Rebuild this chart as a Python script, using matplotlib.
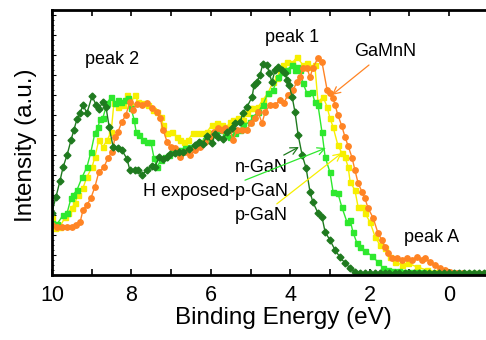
import matplotlib
matplotlib.use("Agg")
import matplotlib.pyplot as plt
import numpy as np

plt.rcParams['font.family'] = ['Liberation Sans', 'DejaVu Sans']

# n-GaN (dark green diamonds)
e_n = [10.01, 9.90, 9.80, 9.72, 9.62, 9.52, 9.45, 9.37, 9.29, 9.22, 9.12, 8.99, 8.89, 8.82, 8.72, 8.64,
       8.56, 8.46, 8.34, 8.24, 8.11, 8.04, 7.91, 7.83, 7.73, 7.61, 7.48, 7.41, 7.30, 7.20, 7.10, 7.03,
       6.90, 6.80, 6.70, 6.55, 6.40, 6.30, 6.20, 6.10, 5.97, 5.89, 5.82, 5.69, 5.59, 5.47, 5.39, 5.26,
       5.19, 5.09, 4.96, 4.91, 4.84, 4.76, 4.69, 4.58, 4.53, 4.46, 4.38, 4.31, 4.21, 4.13, 4.08, 4.03,
       3.95, 3.88, 3.80, 3.70, 3.60, 3.50, 3.43, 3.30, 3.20, 3.12, 3.00, 2.87, 2.75, 2.62, 2.49, 2.37,
       2.24, 2.12, 2.00, 1.87, 1.75, 1.62, 1.50, 1.37, 1.25, 1.12, 1.00, 0.87, 0.75, 0.62, 0.50, 0.37,
       0.25, 0.12, 0.00, -0.12, -0.25, -0.37, -0.50, -0.62, -0.75, -0.87]
i_n = [62, 78, 94, 108, 120, 135, 145, 156, 162, 170, 162, 179, 170, 166, 173, 168,
       148, 128, 127, 125, 116, 105, 105, 105, 100, 105, 109, 108, 118, 116, 118, 121,
       122, 123, 123, 126, 130, 133, 131, 139, 132, 141, 138, 136, 143, 147, 152, 153,
       162, 168, 178, 190, 193, 200, 211, 210, 202, 193, 205, 208, 205, 202, 195, 190,
       178, 163, 140, 120, 107, 83, 73, 62, 58, 43, 35, 25, 18, 12, 7, 3,
       2, 2, 2, 2, 2, 2, 2, 2, 2, 2, 2, 2, 2, 2, 2, 2,
       2, 2, 2, 2, 2, 2, 2, 2, 2, 2]

# H exposed-p-GaN (light green squares)
e_h = [10.00, 9.87, 9.72, 9.62, 9.52, 9.47, 9.37, 9.24, 9.12, 9.02, 8.92, 8.84, 8.79, 8.72, 8.61, 8.51,
       8.41, 8.34, 8.26, 8.16, 8.09, 8.01, 7.93, 7.88, 7.81, 7.71, 7.61, 7.51, 7.43, 7.36, 7.25, 7.15,
       7.05, 6.95, 6.85, 6.75, 6.65, 6.52, 6.40, 6.27, 6.15, 6.02, 5.94, 5.77, 5.64, 5.52, 5.39, 5.26,
       5.19, 5.01, 4.94, 4.81, 4.69, 4.56, 4.43, 4.31, 4.21, 4.08, 3.95, 3.88, 3.83, 3.75, 3.68, 3.58,
       3.45, 3.38, 3.30, 3.20, 3.12, 3.00, 2.92, 2.80, 2.70, 2.57, 2.49, 2.42, 2.32, 2.24, 2.12, 1.94,
       1.79, 1.66, 1.54, 1.40, 1.25, 1.10, 0.95, 0.80, 0.65, 0.50, 0.35, 0.20, 0.05, -0.10, -0.25, -0.40,
       -0.55, -0.70, -0.87]
i_h = [52, 51, 60, 62, 77, 80, 85, 98, 108, 123, 142, 148, 156, 157, 172, 178,
       172, 175, 173, 175, 177, 167, 155, 143, 140, 135, 133, 133, 117, 108, 115, 118,
       120, 123, 125, 125, 127, 128, 129, 133, 135, 137, 142, 145, 140, 138, 142, 145,
       150, 153, 158, 163, 170, 182, 185, 198, 203, 205, 210, 205, 208, 205, 192, 182,
       183, 173, 170, 143, 118, 103, 83, 82, 68, 53, 55, 43, 32, 28, 24, 19,
       13, 7, 5, 4, 4, 3, 3, 3, 3, 2, 2, 2, 2, 2, 2, 2,
       2, 2, 2]

# p-GaN (yellow squares)
e_p = [10.00, 9.92, 9.80, 9.67, 9.60, 9.50, 9.42, 9.35, 9.22, 9.12, 8.99, 8.92, 8.82, 8.72, 8.61, 8.51,
       8.44, 8.34, 8.21, 8.11, 8.04, 7.91, 7.83, 7.71, 7.58, 7.46, 7.36, 7.25, 7.20, 7.10, 6.98, 6.85,
       6.78, 6.68, 6.57, 6.45, 6.32, 6.20, 6.10, 5.97, 5.84, 5.72, 5.59, 5.52, 5.44, 5.31, 5.19, 5.09,
       5.01, 4.94, 4.81, 4.69, 4.56, 4.43, 4.33, 4.26, 4.18, 4.08, 3.95, 3.83, 3.68, 3.58, 3.50, 3.38,
       3.30, 3.17, 3.07, 3.00, 2.92, 2.80, 2.70, 2.62, 2.54, 2.49, 2.37, 2.29, 2.19, 2.12, 1.99, 1.86,
       1.74, 1.61, 1.49, 1.36, 1.18, 1.03, 0.81, 0.55, 0.30, 0.10, -0.10, -0.30, -0.50, -0.70, -0.87]
i_p = [57, 47, 48, 58, 62, 67, 72, 80, 87, 98, 108, 118, 135, 128, 135, 143,
       172, 168, 170, 180, 170, 180, 173, 172, 170, 165, 163, 158, 150, 142, 143, 138,
       135, 133, 135, 142, 142, 142, 143, 150, 152, 150, 148, 153, 155, 157, 155, 162,
       167, 167, 168, 175, 182, 193, 197, 205, 210, 213, 212, 218, 210, 212, 208, 210,
       173, 178, 168, 157, 148, 130, 122, 118, 108, 93, 85, 68, 68, 62, 53, 38,
       30, 27, 18, 13, 10, 12, 8, 5, 3, 2, 2, 2, 2, 2, 2]

# GaMnN (orange circles)
e_m = [10.00, 9.87, 9.75, 9.62, 9.50, 9.40, 9.29, 9.22, 9.12, 9.02, 8.92, 8.82, 8.69, 8.59, 8.49, 8.41,
       8.34, 8.24, 8.14, 8.04, 7.96, 7.86, 7.73, 7.61, 7.48, 7.36, 7.28, 7.20, 7.10, 7.00, 6.90, 6.78,
       6.65, 6.52, 6.40, 6.27, 6.15, 6.02, 5.92, 5.82, 5.72, 5.64, 5.52, 5.44, 5.34, 5.21, 5.09, 4.99,
       4.89, 4.81, 4.71, 4.63, 4.51, 4.38, 4.26, 4.16, 4.06, 3.93, 3.83, 3.75, 3.68, 3.58, 3.50, 3.43,
       3.30, 3.20, 3.07, 3.00, 2.92, 2.87, 2.80, 2.70, 2.62, 2.54, 2.44, 2.37, 2.29, 2.19, 2.12, 2.04,
       1.91, 1.79, 1.69, 1.61, 1.54, 1.44, 1.31, 1.18, 1.06, 0.93, 0.81, 0.68, 0.60, 0.48, 0.35, 0.23,
       0.10, -0.03, -0.20, -0.35, -0.50, -0.65, -0.80]
i_m = [50, 48, 48, 48, 48, 50, 53, 65, 70, 77, 88, 103, 108, 117, 123, 138,
       143, 153, 160, 173, 165, 171, 170, 172, 167, 163, 157, 145, 133, 128, 127, 118,
       123, 120, 125, 128, 133, 138, 143, 147, 145, 147, 145, 135, 145, 145, 145, 152,
       157, 163, 152, 163, 170, 170, 175, 172, 180, 185, 193, 198, 207, 207, 198, 207,
       217, 213, 185, 182, 177, 170, 160, 149, 138, 129, 117, 105, 92, 83, 77, 67,
       57, 42, 35, 28, 22, 17, 17, 15, 17, 15, 18, 15, 17, 13, 10, 7,
       5, 3, 2, 2, 1, 1, 1]

c_n = '#1f7a1f'
c_h = '#2ee82e'
c_p = '#f7ef00'
c_m = '#ff8424'

fig = plt.figure(figsize=(4.86, 3.40), dpi=100)
ax = fig.add_axes([52/486, 65/340, 434/486, 265/340])

ax.plot(e_p, i_p, '-s', color=c_p, ms=3.6, lw=1.0, mec=c_p)
ax.plot(e_h, i_h, '-s', color=c_h, ms=3.6, lw=1.0, mec=c_h)
ax.plot(e_m, i_m, '-o', color=c_m, ms=3.9, lw=1.0, mec=c_m)
ax.plot(e_n, i_n, '-D', color=c_n, ms=3.5, lw=1.0, mec=c_n)

ax.set_xlim(10, 10 - 434/39.7)
ax.set_ylim(0, 265)
ax.set_xticks([10, 8, 6, 4, 2, 0])
ax.set_xticks(np.arange(-0, 11, 1), minor=True)
ax.set_yticks(np.arange(0, 266, 20))
ax.set_yticks(np.arange(0, 266, 5), minor=True)
ax.set_yticklabels([])
ax.tick_params(axis='x', which='both', direction='in', top=True, bottom=True, length=4, width=1.2,
               labelsize=15.5, pad=7)
ax.tick_params(axis='y', which='major', direction='in', left=True, length=3, width=0.8)
ax.tick_params(axis='y', which='minor', direction='in', left=True, length=1.5, width=0.6)
ax.spines['right'].set_visible(False)
for s in ['left', 'bottom', 'top']:
    ax.spines[s].set_linewidth(2.0)

fig.text(283/486, 1 - 318/340, 'Binding Energy (eV)', fontsize=17.5, ha='center', va='center')
fig.text(26/486, 1 - 145/340, 'Intensity (a.u.)', fontsize=17.5, ha='center', va='center',
         rotation=90)

ax.text(8.49, 215, 'peak 2', fontsize=13, ha='center', va='center')
ax.text(3.95, 237, 'peak 1', fontsize=13, ha='center', va='center')
ax.text(0.43, 38, 'peak A', fontsize=13, ha='center', va='center')

ax.annotate('GaMnN', xy=(2.95, 180), xytext=(1.61, 223), fontsize=13, ha='center', va='center',
            arrowprops=dict(arrowstyle='->', color=c_m, lw=0.9, shrinkA=2, shrinkB=0))
ax.annotate('n-GaN', xy=(3.78, 128), xytext=(4.06, 108), fontsize=13, ha='right', va='center',
            arrowprops=dict(arrowstyle='->', color=c_n, lw=0.9, shrinkA=1, shrinkB=0))
ax.annotate('H exposed-p-GaN', xy=(3.10, 127), xytext=(4.06, 83), fontsize=13, ha='right', va='center',
            arrowprops=dict(arrowstyle='->', color=c_h, lw=0.9, shrinkA=1, shrinkB=0))
ax.annotate('p-GaN', xy=(2.70, 122), xytext=(4.06, 59), fontsize=13, ha='right', va='center',
            arrowprops=dict(arrowstyle='->', color=c_p, lw=0.9, shrinkA=1, shrinkB=0))

fig.savefig('out.png', dpi=100)
